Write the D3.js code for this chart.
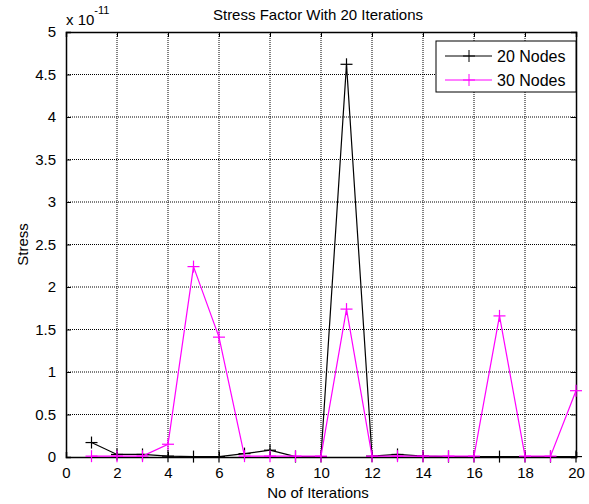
<!DOCTYPE html>
<html>
<head>
<meta charset="utf-8">
<script src="https://cdn.jsdelivr.net/npm/d3@7"></script>
<style>
  body { margin: 0; background: #fff; }
  svg { font-family: "Liberation Sans", Arial, sans-serif; }
</style>
</head>
<body>
<div id="chart"></div>
<script>
const iterations = d3.range(1, 21);
// values in units of 1e-11
const nodes20 = [0.17, 0.03, 0.03, 0.01, 0.005, 0.005, 0.04, 0.08, 0.005, 0.005,
                 4.62, 0.01, 0.03, 0.01, 0.005, 0.005, 0.005, 0.005, 0.005, 0.005];
const nodes30 = [0.01, 0.01, 0.01, 0.15, 2.24, 1.41, 0.01, 0.01, 0.01, 0.01,
                 1.74, 0.01, 0.01, 0.01, 0.01, 0.01, 1.66, 0.01, 0.01, 0.78];
const xTicks = d3.range(0, 21, 2);
const yTicks = d3.range(0, 5.01, 0.5);

const margin = {top: 32, right: 13, bottom: 47, left: 66};
const width = 589, height = 504;
const w = width - margin.left - margin.right;
const h = height - margin.top - margin.bottom;

const svg = d3.select('#chart').append('svg')
  .attr('width', width).attr('height', height);

const g = svg.append('g').attr('transform', `translate(${margin.left}, ${margin.top})`);

const x = d3.scaleLinear().domain([0, 20]).range([0, w]);
const y = d3.scaleLinear().domain([0, 5]).range([h, 0]);

// grid
g.selectAll('.gx').data(xTicks.slice(1, -1)).enter().append('line')
  .attr('x1', d => x(d)).attr('x2', d => x(d)).attr('y1', 0).attr('y2', h)
  .style('stroke', '#000').style('stroke-width', 1).style('stroke-dasharray', '1,1');
g.selectAll('.gy').data(yTicks.slice(1, -1)).enter().append('line')
  .attr('y1', d => y(d)).attr('y2', d => y(d)).attr('x1', 0).attr('x2', w)
  .style('stroke', '#000').style('stroke-width', 1).style('stroke-dasharray', '1,1');

// axes with inward ticks
const fmt = d => d3.format('~g')(d);
g.append('g').attr('transform', `translate(0, ${h})`)
  .call(d3.axisBottom(x).tickValues(xTicks).tickSize(-5).tickPadding(10).tickFormat(fmt));
g.append('g').call(d3.axisTop(x).tickValues(xTicks).tickSize(-5).tickFormat(''));
g.append('g')
  .call(d3.axisLeft(y).tickValues(yTicks).tickSize(-5).tickPadding(10).tickFormat(fmt));
g.append('g').attr('transform', `translate(${w}, 0)`)
  .call(d3.axisRight(y).tickValues(yTicks).tickSize(-5).tickFormat(''));
g.selectAll('.domain').style('stroke', '#000').style('stroke-width', 1.5);
g.selectAll('.tick line').style('stroke', '#000');
g.selectAll('.tick text').style('font-size', '15px').style('fill', '#000');

const line = d3.line().x((d, i) => x(iterations[i])).y(d => y(d));

function drawSeries(data, color) {
  g.append('path').attr('d', line(data))
    .style('fill', 'none').style('stroke', color).style('stroke-width', 1.2);
  const m = g.append('g');
  data.forEach((d, i) => {
    const cx = x(iterations[i]), cy = y(d);
    m.append('line').attr('x1', cx - 6).attr('x2', cx + 6).attr('y1', cy).attr('y2', cy)
      .style('stroke', color).style('stroke-width', 1.2);
    m.append('line').attr('x1', cx).attr('x2', cx).attr('y1', cy - 6).attr('y2', cy + 6)
      .style('stroke', color).style('stroke-width', 1.2);
  });
}
drawSeries(nodes20, '#000');
drawSeries(nodes30, '#ff00ff');

// title and labels
svg.append('text').attr('x', margin.left + w / 2 - 3).attr('y', 20)
  .attr('text-anchor', 'middle').style('font-size', '15px').text('Stress Factor With 20 Iterations');
svg.append('text').attr('x', margin.left + w / 2 - 3).attr('y', 498)
  .attr('text-anchor', 'middle').style('font-size', '15px').text('No of Iterations');
svg.append('text').attr('transform', `translate(28, ${margin.top + h / 2}) rotate(-90)`)
  .attr('text-anchor', 'middle').style('font-size', '15px').text('Stress');
const ex = svg.append('text').attr('x', 66).attr('y', 25).style('font-size', '15px');
ex.append('tspan').text('x 10');
ex.append('tspan').attr('dy', -11).style('font-size', '11px').text('-11');

// legend
const lg = svg.append('g').attr('transform', 'translate(436, 41)');
lg.append('rect').attr('width', 140).attr('height', 51)
  .style('fill', '#fff').style('stroke', '#000').style('stroke-width', 1);
[['20 Nodes', '#000'], ['30 Nodes', '#ff00ff']].forEach(([name, color], i) => {
  const yy = 15 + i * 24;
  lg.append('line').attr('x1', 9).attr('x2', 56).attr('y1', yy).attr('y2', yy).style('stroke', color);
  lg.append('line').attr('x1', 27).attr('x2', 39).attr('y1', yy).attr('y2', yy).style('stroke', color);
  lg.append('line').attr('x1', 33).attr('x2', 33).attr('y1', yy - 6).attr('y2', yy + 6).style('stroke', color);
  lg.append('text').attr('x', 61).attr('y', yy + 6).style('font-size', '16px').text(name);
});
</script>
</body>
</html>
